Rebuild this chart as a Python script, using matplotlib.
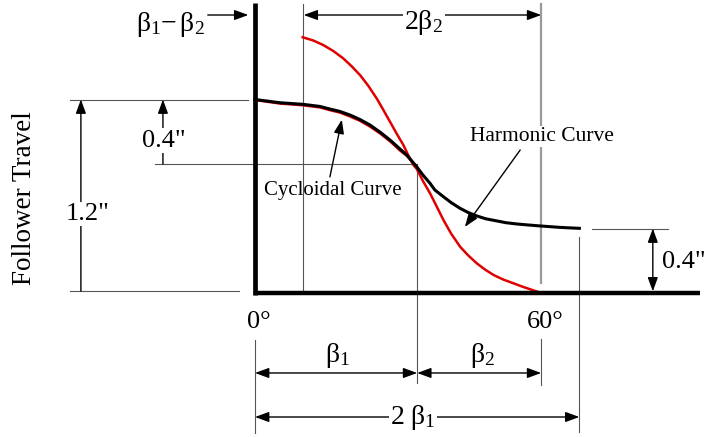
import matplotlib
matplotlib.use("Agg")
from matplotlib import pyplot as plt

plt.rcParams['font.family'] = ['Liberation Serif', 'DejaVu Serif']
plt.rcParams['mathtext.fontset'] = 'custom'
plt.rcParams['mathtext.rm'] = 'Liberation Serif'
plt.rcParams['mathtext.it'] = 'Liberation Serif:italic'

# ---- data (cam angle in degrees, follower travel in inches) ----
beta1 = 34
start_2b2 = 10     # where the 2*beta2 cycloid starts (drawn at ~10 deg)
rise = 1.2
drop = 0.4

harm_deg = [0, 5.2, 10.1, 13.6, 15.7, 17.8, 19.9, 22.0, 24.1, 26.2, 28.3, 30.4, 31.8, 33.9,
            35.2, 36.7, 37.7, 39.5, 41.1, 43.0, 44.7, 46.5, 48.4, 50.7, 52.6, 54.9, 57.2, 59.7, 63.9, 68.0]
harm_in = [1.2, 1.180, 1.170, 1.157, 1.141, 1.126, 1.104, 1.076, 1.042, 0.998, 0.949, 0.893, 0.856, 0.783,
           0.732, 0.680, 0.639, 0.597, 0.561, 0.525, 0.499, 0.478, 0.460, 0.447, 0.436, 0.428, 0.422, 0.416, 0.407, 0.401]

cyc1_deg = [0, 5.2, 10.1, 13.6, 15.7, 17.8, 19.9, 22.0, 24.1, 26.2, 28.3, 30.4, 31.9, 34.0]
cyc1_in = [1.197, 1.175, 1.164, 1.151, 1.134, 1.119, 1.095, 1.068, 1.032, 0.990, 0.941, 0.884, 0.849, 0.778]

cyc2_deg = [10, 12.2, 14.3, 16.4, 18.5, 20.3, 22.0, 23.7, 25.5, 26.8, 28.3, 29.8, 31.1, 32.1, 33.2, 33.9,
            35.2, 36.7, 38.1, 39.5, 41.1, 43.0, 44.7, 46.5, 48.2, 50.0, 52.0, 54.2, 56.0, 57.7, 60.0]
cyc2_in = [1.586, 1.566, 1.538, 1.501, 1.455, 1.405, 1.352, 1.287, 1.207, 1.141, 1.062, 0.983, 0.918, 0.856, 0.794, 0.770,
           0.695, 0.618, 0.536, 0.453, 0.369, 0.287, 0.233, 0.184, 0.146, 0.112, 0.084, 0.060, 0.040, 0.023, 0.0]

# ---- figure: one axes over the whole canvas ----
PX_DEG = 4.77     # pixels per degree
PX_IN = 161.25    # pixels per inch of travel
fig = plt.figure(figsize=(7.06, 4.37), dpi=100)
ax = fig.add_axes([0, 0, 1, 1])
ax.set_xlim(-255 / PX_DEG, (706 - 255) / PX_DEG)
ax.set_ylim(-(437 - 293) / PX_IN, 293 / PX_IN)
ax.axis('off')

thin = dict(color='#555555', lw=0.8)
white = dict(facecolor='white', edgecolor='none', pad=1)


def arrow(x0, y0, x1, y1, both=False):
    style = '<|-|>' if both else '-|>'
    ax.annotate('', xy=(x1, y1), xytext=(x0, y0),
                arrowprops=dict(arrowstyle=style + ',head_length=0.6,head_width=0.22',
                                mutation_scale=14, lw=1, color='black',
                                shrinkA=0, shrinkB=0))


# reference lines
ax.plot([start_2b2] * 2, [0, 1.79], **thin)
ax.plot([60, 60], [0.06, 1.79], color='#9a9a9a', lw=1.6)
ax.plot([60, 60], [-0.285, -0.57], **thin)
ax.plot([beta1] * 2, [rise - drop, -0.56], **thin)
ax.plot([2 * beta1] * 2, [0.35, -0.86], **thin)
ax.plot([0, 0], [-0.29, -0.87], **thin)
ax.plot([-38.8, -1.5], [rise, rise], **thin)
ax.plot([-38.8, -3.4], [0.012, 0.012], **thin)
ax.plot([-21.0, beta1], [rise - drop, rise - drop], **thin)
ax.plot([70.6, 86.6], [drop, drop], **thin)

# curves
ax.plot(cyc1_deg, cyc1_in, color='#e00000', lw=1.8, solid_joinstyle='round')
ax.plot(cyc2_deg, cyc2_in, color='#e00000', lw=1.8, solid_joinstyle='round')
ax.plot(harm_deg, harm_in, color='black', lw=2.2, solid_joinstyle='round')

# axes of the diagram
ax.plot([0, 0], [-0.01, 1.80], color='black', lw=3.4, solid_capstyle='butt')
ax.plot([-0.3, 93.3], [0, 0], color='black', lw=3.2, solid_capstyle='butt')

# dimensions, left side
arrow(-36.5, 0.012, -36.5, rise)
ax.text(-35.0, 0.49, '1.2"', fontsize=19, ha='center', va='center', bbox=white)
arrow(-19.3, rise - drop, -19.3, rise)
ax.text(-19.1, 0.945, '0.4"', fontsize=19, ha='center', va='center', bbox=white)
ax.text(-48.4, 0.59, 'Follower Travel', fontsize=19.5, rotation=90, ha='center', va='center')

# dimensions, top
arrow(-9.9, 1.724, -1.4, 1.724)
ax.text(-17.8, 1.665, r'$\mathrm{β}_1\mathrm{-}\,\mathrm{β}_2$', fontsize=20, ha='center', va='center')
arrow(60, 1.724, start_2b2 + 0.2, 1.724, both=True)
ax.text(35.4, 1.68, r'$\mathrm{2β}_2$', fontsize=20, ha='center', va='center', bbox=white)

# right side
arrow(83.4, 0.01, 83.4, drop, both=True)
ax.text(85.3, 0.19, '0.4"', fontsize=19, ha='left', va='center')

# curve labels
ax.text(60.2, 0.97, 'Harmonic Curve', fontsize=15.5, ha='center', va='center', bbox=white)
arrow(55.6, 0.887, 44.0, 0.41)
ax.text(16.3, 0.635, 'Cycloidal Curve', fontsize=15, ha='center', va='center')
arrow(15.7, 0.72, 18.2, 1.075)

# bottom
ax.text(0.8, -0.18, '0°', fontsize=19, ha='center', va='center')
ax.text(60.8, -0.18, '60°', fontsize=19, ha='center', va='center')
arrow(0, -0.496, beta1, -0.496, both=True)
arrow(beta1, -0.496, 60, -0.496, both=True)
ax.text(17.2, -0.39, r'$\mathrm{β}_1$', fontsize=20, ha='center', va='center')
ax.text(47.6, -0.39, r'$\mathrm{β}_2$', fontsize=20, ha='center', va='center')
arrow(0, -0.769, 2 * beta1, -0.769, both=True)
ax.text(33.1, -0.775, r'$\mathrm{2\ β}_1$', fontsize=20, ha='center', va='center', bbox=white)

fig.savefig('out.png', dpi=100)
